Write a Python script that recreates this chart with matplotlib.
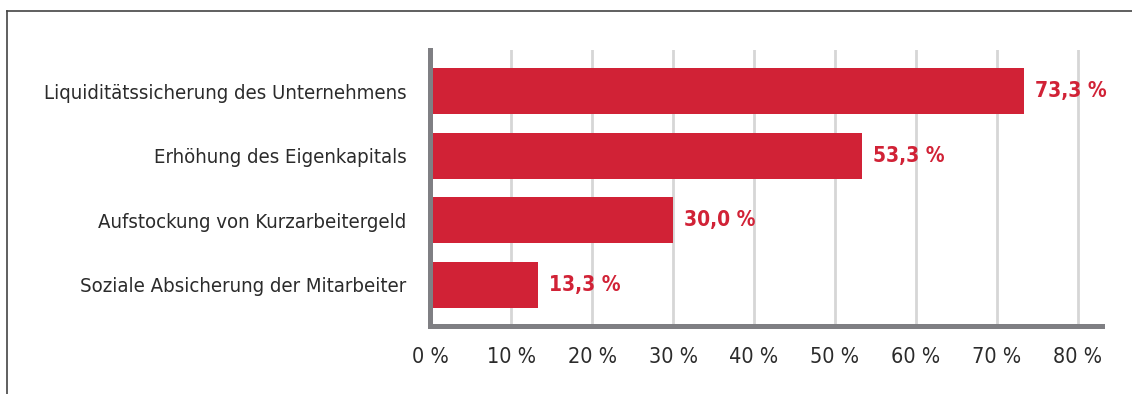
import matplotlib.pyplot as plt
from matplotlib.lines import Line2D

categories = [
    "Liquiditätssicherung des Unternehmens",
    "Erhöhung des Eigenkapitals",
    "Aufstockung von Kurzarbeitergeld",
    "Soziale Absicherung der Mitarbeiter",
]
values = [73.3, 53.3, 30.0, 13.3]
ticks = [0, 10, 20, 30, 40, 50, 60, 70, 80]

red = "#d12236"
spine_grey = "#7f7f83"
text_grey = "#2b2b2b"

plt.rcParams["font.family"] = ["DejaVu Sans"]
plt.rcParams["font.stretch"] = "condensed"

fig = plt.figure(figsize=(11.32, 3.94), dpi=100)
ax = fig.add_axes([0.380, 0.1726, 0.5936, 0.701])

pos = list(range(len(categories)))
ax.barh(pos, values, height=0.71, color=red, zorder=3)
for p, v in zip(pos, values):
    ax.text(v + 1.4, p, f"{v:.1f} %".replace(".", ","), va="center", ha="left",
            color=red, fontsize=15, fontweight="bold")

ax.set_xlim(0, 83.0)
ax.set_ylim(3.64, -0.64)
ax.set_xticks(ticks)
ax.set_xticklabels([f"{t} %" for t in ticks], fontsize=15.5, color=text_grey)
ax.set_yticks(pos)
ax.set_yticklabels(categories, fontsize=14.6, color=text_grey)
ax.tick_params(axis="both", length=0)
ax.tick_params(axis="x", pad=15)
ax.tick_params(axis="y", pad=17)

ax.grid(axis="x", color="#d6d6d6", linewidth=2, zorder=0)
ax.set_axisbelow(True)
for s in ["top", "right"]:
    ax.spines[s].set_visible(False)
for s in ["left", "bottom"]:
    ax.spines[s].set_color(spine_grey)
    ax.spines[s].set_linewidth(3.6)
    ax.spines[s].set_zorder(4)

# outer frame: top and left rule
fig.add_artist(Line2D([7 / 1132, 1], [1 - 11 / 394, 1 - 11 / 394],
                      transform=fig.transFigure, color="#444444", linewidth=1.2))
fig.add_artist(Line2D([7 / 1132, 7 / 1132], [0, 1 - 11 / 394],
                      transform=fig.transFigure, color="#444444", linewidth=1.2))

fig.savefig("out.png", dpi=100)
